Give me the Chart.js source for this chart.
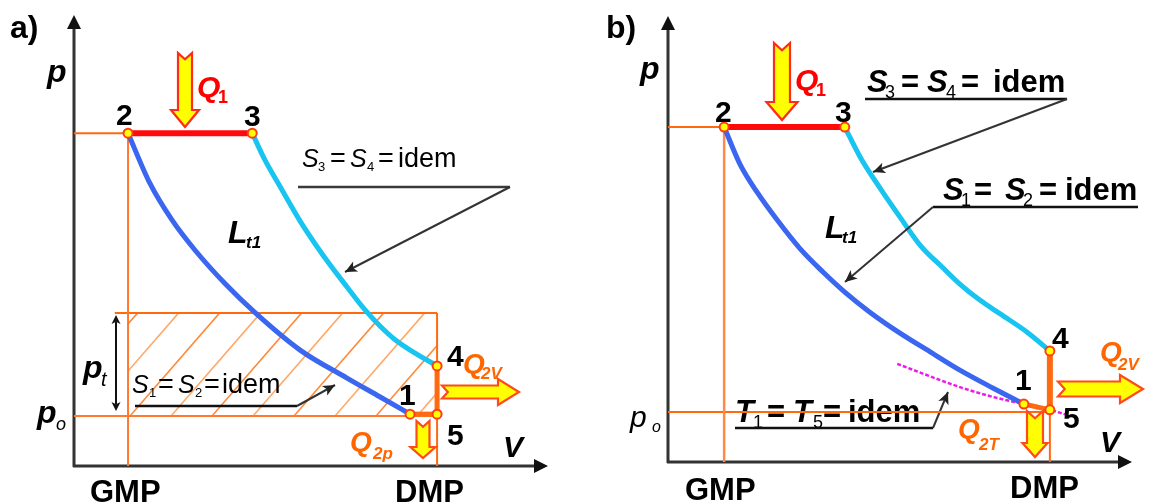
<!DOCTYPE html>
<html><head><meta charset="utf-8">
<script src="https://cdn.jsdelivr.net/npm/chart.js@4.4.0/dist/chart.umd.min.js"></script>
<style>
html,body{margin:0;padding:0;background:#fff;width:1151px;height:504px;overflow:hidden}
canvas{position:absolute;top:0}
#ca{left:0}#cb{left:575px}
</style></head><body>
<canvas id="ca" width="575" height="504"></canvas>
<canvas id="cb" width="576" height="504"></canvas>
<script>
// ---------- Panel a) : V, p in relative units 0..100 ----------
const aGMP = 11.4, aDMP = 76.6, aP23 = 73.8, aP0 = 11.1, aPt = 33.9, aBoxLeft = 8.6;
const aCompV = [11.4, 16.0, 20.7, 25.5, 31.9, 38.2, 47.7, 57.6, 64.6, 70.9];
const aCompP = [73.8, 62.7, 54.5, 47.9, 40.4, 34.0, 25.7, 19.5, 15.3, 11.5];
const aExpV  = [37.6, 40.3, 43.5, 47.7, 52.5, 57.6, 61.4, 64.6, 68.1, 71.5, 76.6];
const aExpP  = [73.8, 67.8, 61.9, 54.3, 46.8, 39.7, 34.6, 31.0, 27.7, 25.3, 22.2];
const aPtLabels = ['1', '2', '3', '4', '5'];
const aPtV = [70.9, 11.4, 37.6, 76.6, 76.6];
const aPtP = [11.5, 73.8, 73.8, 22.2, 11.5];

// ---------- Panel b) ----------
const bGMP = 12.1, bDMP = 82.3, bP23 = 75.1, bP0 = 11.2;
const bCompV = [12.1, 15.5, 19.2, 23.5, 28.4, 33.4, 38.1, 43.5, 50.0, 56.5, 62.9, 70.0, 76.7];
const bCompP = [75.1, 66.8, 60.5, 54.3, 47.9, 42.6, 38.1, 33.6, 28.9, 24.7, 20.6, 16.6, 13.0];
const bExpV  = [38.1, 41.4, 45.7, 50.0, 54.5, 59.3, 62.9, 67.2, 71.6, 77.4, 82.3];
const bExpP  = [75.1, 68.4, 61.4, 54.9, 48.4, 43.5, 39.9, 36.3, 33.2, 29.1, 24.9];
const bIsoV  = [49.4, 62.9, 70.0, 76.7, 82.3, 86.2];
const bIsoP  = [22.0, 16.8, 14.6, 13.0, 11.7, 10.5];
const bPtLabels = ['1', '2', '3', '4', '5'];
const bPtV = [76.7, 12.1, 38.1, 82.3, 82.3];
const bPtP = [13.0, 75.1, 75.1, 24.9, 11.7];

const pts = (xs, ys) => xs.map((x, i) => ({x, y: ys[i]}));
const ORANGE = '#FF6A10';
const F = '"Liberation Sans", Arial, sans-serif';

function line(data, color, width, order, extra) {
  return Object.assign({data, showLine: true, borderColor: color, backgroundColor: color,
    borderWidth: width, pointRadius: 0, order, fill: false, clip: false, tension: 0}, extra || {});
}
function curve(data, color, order) {
  return line(data, color, 5, order, {cubicInterpolationMode: 'monotone', borderCapStyle: 'round'});
}
function dots(data) {
  return {data, showLine: false, pointRadius: 4.5, pointBackgroundColor: '#FFFF00',
    pointBorderColor: '#FF3B1A', pointBorderWidth: 2, order: 0, clip: false};
}

// ---------- drawing helpers ----------
function mk(off) {
  const h = {};
  h.t = (ctx, s, x, y, font, color) => {
    ctx.font = font; ctx.fillStyle = color || '#000';
    ctx.textAlign = 'left'; ctx.textBaseline = 'alphabetic';
    ctx.fillText(s, x - off, y);
  };
  h.seg = (ctx, x1, y1, x2, y2, color, w) => {
    ctx.strokeStyle = color; ctx.lineWidth = w; ctx.beginPath();
    ctx.moveTo(x1 - off, y1); ctx.lineTo(x2 - off, y2); ctx.stroke();
  };
  h.head = (ctx, x1, y1, x2, y2, color, len, half) => {
    const a = Math.atan2(y2 - y1, x2 - x1);
    ctx.save(); ctx.translate(x2 - off, y2); ctx.rotate(a);
    ctx.fillStyle = color; ctx.beginPath();
    ctx.moveTo(0, 0); ctx.lineTo(-len, -half); ctx.lineTo(-len * 0.75, 0); ctx.lineTo(-len, half);
    ctx.closePath(); ctx.fill(); ctx.restore();
  };
  h.leader = (ctx, x1, y1, x2, y2) => {
    h.seg(ctx, x1, y1, x2, y2, '#333', 2);
    h.head(ctx, x1, y1, x2, y2, '#222', 12, 5.5);
  };
  h.block = (ctx, x1, y1, x2, y2, sw, hw, hl, stroke) => {
    const L = Math.hypot(x2 - x1, y2 - y1), a = Math.atan2(y2 - y1, x2 - x1);
    ctx.save(); ctx.translate(x1 - off, y1); ctx.rotate(a);
    ctx.beginPath();
    ctx.moveTo(0, -sw / 2); ctx.lineTo(L - hl, -sw / 2); ctx.lineTo(L - hl, -hw / 2);
    ctx.lineTo(L, 0); ctx.lineTo(L - hl, hw / 2); ctx.lineTo(L - hl, sw / 2);
    ctx.lineTo(0, sw / 2); ctx.lineTo(sw * 0.45, 0); ctx.closePath();
    ctx.fillStyle = '#FFFF00'; ctx.fill();
    ctx.lineJoin = 'miter'; ctx.strokeStyle = stroke; ctx.lineWidth = 2.2; ctx.stroke();
    ctx.restore();
  };
  return h;
}
function axes(chart) {
  const ctx = chart.ctx, a = chart.chartArea;
  ctx.save();
  ctx.strokeStyle = '#333'; ctx.lineWidth = 3; ctx.fillStyle = '#111';
  ctx.beginPath(); ctx.moveTo(a.left, a.bottom + 1); ctx.lineTo(a.left, a.top + 10); ctx.stroke();
  ctx.beginPath(); ctx.moveTo(a.left - 1, a.bottom); ctx.lineTo(a.right - 10, a.bottom); ctx.stroke();
  ctx.beginPath(); ctx.moveTo(a.left, a.top); ctx.lineTo(a.left - 7, a.top + 14); ctx.lineTo(a.left + 7, a.top + 14); ctx.closePath(); ctx.fill();
  ctx.beginPath(); ctx.moveTo(a.right, a.bottom); ctx.lineTo(a.right - 14, a.bottom - 7); ctx.lineTo(a.right - 14, a.bottom + 7); ctx.closePath(); ctx.fill();
  ctx.restore();
}
const B30 = 'bold 30px ' + F, BI32 = 'bold italic 32px ' + F;

// ---------- panel a plugin ----------
const hA = mk(0);
const plugA = {
  id: 'annA',
  beforeDatasetsDraw(chart) {
    const ctx = chart.ctx, xs = chart.scales.x, ys = chart.scales.y;
    const L = xs.getPixelForValue(aGMP), R = xs.getPixelForValue(aDMP);
    const T = ys.getPixelForValue(aPt), Bm = ys.getPixelForValue(aP0);
    ctx.save(); ctx.beginPath(); ctx.rect(L, T, R - L, Bm - T); ctx.clip();
    const hgt = Bm - T, k = 1.15, sp = 41;
    for (let i = -4; i < 12; i++) {
      const xb = L + 2 + i * sp;
      ctx.strokeStyle = (i % 2) ? '#FFA868' : '#FF8A3A'; ctx.lineWidth = 1.6;
      ctx.beginPath(); ctx.moveTo(xb, Bm); ctx.lineTo(xb + hgt / k, T); ctx.stroke();
    }
    ctx.restore();
    axes(chart);
  },
  afterDatasetsDraw(chart) {
    const ctx = chart.ctx, h = hA;
    ctx.save();
    h.t(ctx, 'a)', 10, 38, 'bold 32px ' + F);
    h.t(ctx, 'p', 47, 82, BI32);
    aPtLabels.forEach((s, i) => {
      const pos = [[399, 405], [116, 125], [244, 126], [447, 366], [447, 445]][i];
      h.t(ctx, s, pos[0], pos[1], B30);
    });
    h.t(ctx, 'V', 503, 457, 'bold italic 30px ' + F);
    h.t(ctx, 'GMP', 90, 502, 'bold 31px ' + F);
    h.t(ctx, 'DMP', 395, 502, 'bold 31px ' + F);
    h.t(ctx, 'p', 83, 378, BI32); h.t(ctx, 't', 101, 386, 'italic 20px ' + F);
    h.t(ctx, 'p', 37, 423, BI32); h.t(ctx, 'o', 56, 430, 'italic 18px ' + F);
    h.seg(ctx, 116, 322, 116, 404, '#111', 2);
    h.head(ctx, 116, 330, 116, 315, '#111', 9, 4.5);
    h.head(ctx, 116, 400, 116, 411, '#111', 9, 4.5);
    h.t(ctx, 'L', 228, 243, BI32); h.t(ctx, 't1', 246, 248, 'bold italic 17px ' + F);
    const I25 = 'italic 25px ' + F, R14 = '13px ' + F, R27 = '27px ' + F;
    h.t(ctx, 'S', 302, 167, I25); h.t(ctx, '3', 318, 171, R14);
    h.t(ctx, '=', 330, 167, R27); h.t(ctx, 'S', 350, 167, I25); h.t(ctx, '4', 367, 171, R14);
    h.t(ctx, '=', 378, 167, R27); h.t(ctx, 'idem', 398, 167, R27);
    h.seg(ctx, 298, 187, 510, 187, '#3a3a3a', 2.5);
    h.leader(ctx, 510, 187, 345, 272);
    h.t(ctx, 'S', 132, 393, I25); h.t(ctx, '1', 149, 397, R14);
    h.t(ctx, '=', 158, 393, R27); h.t(ctx, 'S', 178, 393, I25); h.t(ctx, '2', 195, 397, R14);
    h.t(ctx, '=', 204, 393, R27); h.t(ctx, 'idem', 222, 393, R27);
    h.seg(ctx, 135, 406, 297, 406, '#111', 2.5);
    h.leader(ctx, 297, 406, 335, 385);
    h.block(ctx, 185, 53, 185, 127, 14, 28, 17, '#FF2A1A');
    h.block(ctx, 442, 392, 519, 392, 13, 26, 21, '#FF4A1A');
    h.block(ctx, 423, 421, 423, 458, 13, 25, 11, '#FF4A1A');
    h.t(ctx, 'Q', 197, 97, 'bold italic 30px ' + F, '#FF0000'); h.t(ctx, '1', 218, 103, 'bold 18px ' + F, '#FF0000');
    h.t(ctx, 'Q', 463, 373, 'bold italic 28px ' + F, '#FF6600'); h.t(ctx, '2V', 481, 379, 'bold italic 17px ' + F, '#FF6600');
    h.t(ctx, 'Q', 350, 451, 'bold italic 28px ' + F, '#FF6600'); h.t(ctx, '2p', 373, 459, 'bold italic 17px ' + F, '#FF6600');
    ctx.restore();
  }
};

// ---------- panel b plugin ----------
const hB = mk(575);
const plugB = {
  id: 'annB',
  beforeDatasetsDraw(chart) {
    const ctx = chart.ctx, h = hB;
    axes(chart);
    ctx.save();
    const BI31 = 'bold italic 31px ' + F, B31 = 'bold 31px ' + F, S18 = '18px ' + F;
    h.t(ctx, 'T', 735, 422, BI31); h.t(ctx, '1', 753, 428, S18);
    h.t(ctx, '=', 767, 422, B31); h.t(ctx, 'T', 793, 422, BI31); h.t(ctx, '5', 813, 428, S18);
    h.t(ctx, '=', 823, 422, B31); h.t(ctx, 'idem', 848, 422, B31);
    h.seg(ctx, 735, 428, 933, 428, '#111', 2.5);
    h.leader(ctx, 933, 428, 948, 392);
    ctx.restore();
  },
  afterDatasetsDraw(chart) {
    const ctx = chart.ctx, h = hB;
    ctx.save();
    h.t(ctx, 'b)', 606, 38, 'bold 32px ' + F);
    h.t(ctx, 'p', 640, 79, BI32);
    bPtLabels.forEach((s, i) => {
      const pos = [[1015, 390], [715, 122], [835, 122], [1052, 348], [1063, 428]][i];
      h.t(ctx, s, pos[0], pos[1], B30);
    });
    h.t(ctx, 'V', 1100, 452, 'bold italic 30px ' + F);
    h.t(ctx, 'GMP', 685, 500, 'bold 31px ' + F);
    h.t(ctx, 'DMP', 1010, 498, 'bold 31px ' + F);
    h.t(ctx, 'p', 630, 427, 'italic 30px ' + F); h.t(ctx, 'o', 652, 432, 'italic 16px ' + F);
    h.t(ctx, 'L', 825, 238, BI32); h.t(ctx, 't1', 842, 243, 'bold italic 17px ' + F);
    const BI31 = 'bold italic 31px ' + F, B31 = 'bold 31px ' + F, S18 = '18px ' + F;
    h.t(ctx, 'S', 867, 92, BI31); h.t(ctx, '3', 885, 98, S18);
    h.t(ctx, '=', 901, 92, B31); h.t(ctx, 'S', 927, 92, BI31); h.t(ctx, '4', 946, 98, S18);
    h.t(ctx, '=', 961, 92, B31); h.t(ctx, 'idem', 993, 92, B31);
    h.seg(ctx, 865, 99, 1067, 99, '#111', 2.5);
    h.leader(ctx, 1067, 99, 873, 172);
    h.t(ctx, 'S', 943, 200, BI31); h.t(ctx, '1', 961, 206, S18);
    h.t(ctx, '=', 974, 200, B31); h.t(ctx, 'S', 1005, 200, BI31); h.t(ctx, '2', 1023, 206, S18);
    h.t(ctx, '=', 1039, 200, B31); h.t(ctx, 'idem', 1065, 200, B31);
    h.seg(ctx, 933, 207, 1138, 207, '#111', 2.5);
    h.leader(ctx, 933, 207, 845, 282);
    h.block(ctx, 782, 43, 782, 120, 16, 31, 18, '#FF2A1A');
    h.block(ctx, 1058, 389, 1143, 389, 15, 28, 23, '#FF4A1A');
    h.block(ctx, 1035, 411, 1035, 457, 16, 25, 14, '#FF4A1A');
    h.t(ctx, 'Q', 795, 90, 'bold italic 30px ' + F, '#FF0000'); h.t(ctx, '1', 816, 96, 'bold 18px ' + F, '#FF0000');
    h.t(ctx, 'Q', 1100, 361, 'bold italic 28px ' + F, '#FF6600'); h.t(ctx, '2V', 1118, 370, 'bold italic 17px ' + F, '#FF6600');
    h.t(ctx, 'Q', 958, 438, 'bold italic 28px ' + F, '#FF6600'); h.t(ctx, '2T', 979, 450, 'bold italic 17px ' + F, '#FF6600');
    ctx.restore();
  }
};

function makeChart(id, pad, datasets, plugin) {
  return new Chart(document.getElementById(id), {
    type: 'scatter',
    data: {datasets},
    options: {
      responsive: false, animation: false, events: [],
      layout: {padding: pad},
      plugins: {legend: {display: false}, tooltip: {enabled: false}},
      scales: {
        x: {type: 'linear', min: 0, max: 100, display: false},
        y: {type: 'linear', min: 0, max: 100, display: false}
      }
    },
    plugins: [plugin]
  });
}

makeChart('ca', {left: 74, right: 27, top: 15, bottom: 38}, [
  line([{x: 0, y: aP23}, {x: aGMP, y: aP23}], ORANGE, 2, 10),
  line([{x: aGMP, y: aP23}, {x: aGMP, y: 0}], '#FF7A30', 2, 10),
  line([{x: 0, y: aP0}, {x: aDMP, y: aP0}], '#FF7A30', 2, 10),
  line([{x: aBoxLeft, y: aPt}, {x: aDMP, y: aPt}], ORANGE, 2, 10),
  line([{x: aDMP, y: aPt}, {x: aDMP, y: 0}], ORANGE, 2, 10),
  curve(pts(aCompV, aCompP), '#3A66F0', 5),
  curve(pts(aExpV, aExpP), '#18C4F0', 5),
  line([{x: aPtV[1], y: aPtP[1]}, {x: aPtV[2], y: aPtP[2]}], '#FF0A0A', 6, 4),
  line([{x: aPtV[3], y: aPtP[3]}, {x: aPtV[4], y: aPtP[4]}], '#FF6A10', 5, 3),
  line([{x: aPtV[0], y: aPtP[0]}, {x: aPtV[4], y: aPtP[4]}], '#FF6A10', 5, 3),
  dots(pts(aPtV, aPtP))
], plugA);

makeChart('cb', {left: 93, right: 19, top: 16, bottom: 42}, [
  line([{x: 0, y: bP23}, {x: bGMP, y: bP23}], ORANGE, 2, 10),
  line([{x: bGMP, y: bP23}, {x: bGMP, y: 0}], '#FF8A45', 2.5, 10),
  line([{x: 0, y: bP0}, {x: bDMP, y: bP0}], ORANGE, 2, 10),
  line([{x: bDMP, y: bPtP[3]}, {x: bDMP, y: 0}], ORANGE, 2, 10),
  line(pts(bIsoV, bIsoP), '#E81EE8', 2.5, 9, {borderDash: [4, 2], cubicInterpolationMode: 'monotone'}),
  curve(pts(bCompV, bCompP), '#3A66F0', 5),
  curve(pts(bExpV, bExpP), '#18C4F0', 5),
  line([{x: bPtV[1], y: bPtP[1]}, {x: bPtV[2], y: bPtP[2]}], '#FF0A0A', 6, 4),
  line([{x: bPtV[3], y: bPtP[3]}, {x: bPtV[4], y: bPtP[4]}], '#FF6A10', 6, 3),
  line([{x: bPtV[0], y: bPtP[0]}, {x: bPtV[4], y: bPtP[4]}], '#FF6A10', 5, 3),
  dots(pts(bPtV, bPtP))
], plugB);
</script>
</body></html>
